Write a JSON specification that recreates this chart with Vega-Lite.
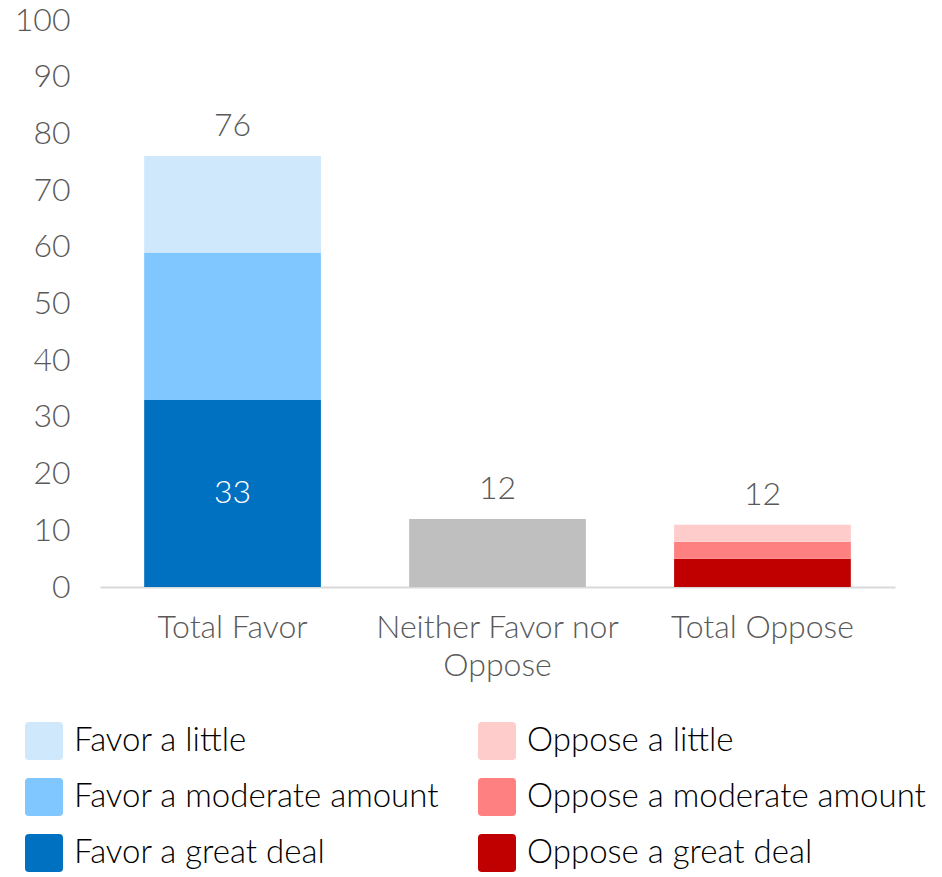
{
  "$schema": "https://vega.github.io/schema/vega-lite/v6.json",
  "autosize": "none",
  "width": 795,
  "height": 567,
  "padding": {"left": 100, "top": 20, "right": 47, "bottom": 290},
  "background": "white",
  "config": {
    "view": {"stroke": null},
    "font": "Lato",
    "axis": {"labelFont": "Lato", "labelColor": "#595959", "labelFontSize": 32, "labelFontWeight": 300, "labelLimit": 500}
  },
  "datasets": {
    "bars": [
      {"category": "Total Favor", "response": "Favor a great deal", "rank": 1, "value": 33},
      {"category": "Total Favor", "response": "Favor a moderate amount", "rank": 2, "value": 26},
      {"category": "Total Favor", "response": "Favor a little", "rank": 3, "value": 17},
      {"category": "Neither Favor nor Oppose", "response": "Neither", "rank": 1, "value": 12},
      {"category": "Total Oppose", "response": "Oppose a great deal", "rank": 1, "value": 5},
      {"category": "Total Oppose", "response": "Oppose a moderate amount", "rank": 2, "value": 3},
      {"category": "Total Oppose", "response": "Oppose a little", "rank": 3, "value": 3}
    ],
    "totals": [
      {"category": "Total Favor", "top": 76, "label": "76"},
      {"category": "Neither Favor nor Oppose", "top": 12, "label": "12"},
      {"category": "Total Oppose", "top": 11, "label": "12"}
    ]
  },
  "encoding": {
    "x": {
      "field": "category",
      "type": "nominal",
      "sort": ["Total Favor", "Neither Favor nor Oppose", "Total Oppose"],
      "scale": {"paddingInner": 0.333, "paddingOuter": 0.1667},
      "axis": {
        "title": null,
        "labelAngle": 0,
        "ticks": false,
        "domainColor": "#D9D9D9",
        "domainWidth": 2,
        "labelPadding": 25,
        "labelLineHeight": 38,
        "labelExpr": "datum.label == 'Neither Favor nor Oppose' ? ['Neither Favor nor', 'Oppose'] : datum.label"
      }
    }
  },
  "layer": [
    {
      "data": {"name": "bars"},
      "mark": {"type": "bar"},
      "encoding": {
        "y": {
          "field": "value",
          "type": "quantitative",
          "stack": "zero",
          "scale": {"domain": [0, 100], "nice": false},
          "axis": {
            "title": null,
            "values": [0, 10, 20, 30, 40, 50, 60, 70, 80, 90, 100],
            "domain": false,
            "ticks": false,
            "grid": false,
            "labelPadding": 30
          }
        },
        "order": {"field": "rank", "type": "quantitative"},
        "color": {
          "field": "response",
          "type": "nominal",
          "scale": {
            "domain": ["Favor a little", "Favor a moderate amount", "Favor a great deal", "Oppose a little", "Oppose a moderate amount", "Oppose a great deal", "Neither"],
            "range": ["#CFE8FC", "#80C7FF", "#0070C0", "#FFCCCC", "#FF8080", "#C00000", "#BFBFBF"]
          },
          "legend": {
            "title": null,
            "orient": "none",
            "legendX": -75,
            "legendY": 702,
            "columns": 2,
            "padding": 0,
            "values": ["Favor a little", "Favor a moderate amount", "Favor a great deal", "Oppose a little", "Oppose a moderate amount", "Oppose a great deal"],
            "symbolType": "M-1,-0.8Q-1,-1,-0.8,-1L0.8,-1Q1,-1,1,-0.8L1,0.8Q1,1,0.8,1L-0.8,1Q-1,1,-1,0.8Z",
            "symbolSize": 1444,
            "symbolStrokeWidth": 0,
            "symbolOpacity": 1,
            "labelFont": "Lato",
            "labelFontSize": 33,
            "labelFontWeight": 300,
            "labelColor": "#000000",
            "labelOffset": 11,
            "labelLimit": 500,
            "rowPadding": 18,
            "columnPadding": 38
          }
        }
      }
    },
    {
      "data": {"name": "bars"},
      "transform": [{"filter": "datum.response == 'Favor a great deal'"}],
      "mark": {"type": "text", "color": "white", "fontSize": 32, "fontWeight": 300, "baseline": "middle"},
      "encoding": {
        "y": {"field": "value", "type": "quantitative", "stack": "zero", "bandPosition": 0.5},
        "text": {"field": "value", "type": "quantitative"}
      }
    },
    {
      "data": {"name": "totals"},
      "mark": {"type": "text", "color": "#595959", "fontSize": 32, "fontWeight": 300, "baseline": "alphabetic", "dy": -20},
      "encoding": {
        "y": {"field": "top", "type": "quantitative"},
        "text": {"field": "label", "type": "nominal"}
      }
    }
  ]
}
